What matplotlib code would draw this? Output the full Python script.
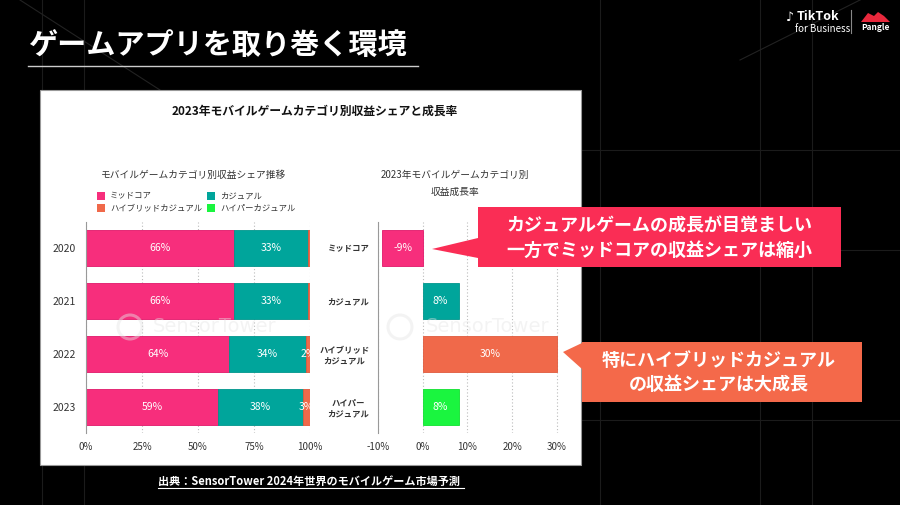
import numpy as np
import matplotlib
matplotlib.use("Agg")
import matplotlib.pyplot as plt
from matplotlib.patches import Rectangle, Polygon, Circle

plt.rcParams['font.family'] = ['Noto Sans CJK JP', 'DejaVu Sans']

W, H = 900, 505

# --- data ---
years = ["2020", "2021", "2022", "2023"]
legend_names = ["ミッドコア", "カジュアル", "ハイブリッドカジュアル", "ハイパーカジュアル"]
share_midcore = [66, 66, 64, 59]
share_casual = [33, 33, 34, 38]
share_hybrid = [1, 1, 2, 3]
share_hyper = [0, 0, 0, 0]
growth_labels = ["ミッドコア", "カジュアル", "ハイブリッド\nカジュアル", "ハイパー\nカジュアル"]
growth = [-9, 8, 30, 8]
share_ticks = [0, 25, 50, 75, 100]
growth_ticks = [-10, 0, 10, 20, 30]

COLS = ["#F72E7C", "#00A59B", "#F0694A", "#1AF53F"]
EDGE = ["#E0186A", "#00968C", "#E05A3C", "#10E030"]
TXT = "#333333"

fig = plt.figure(figsize=(W / 100, H / 100), dpi=100, facecolor="black")

def px_ax(x0, y0, x1, y1, z=0):
    a = fig.add_axes([x0 / W, 1 - y1 / H, (x1 - x0) / W, (y1 - y0) / H], zorder=z)
    return a

# background layer (pixel coords)
bg = px_ax(0, 0, W, H, z=0)
bg.set_xlim(0, W); bg.set_ylim(H, 0); bg.axis("off")
bg.set_facecolor("black")
for x in [42, 84, 600, 760, 812]:
    bg.plot([x, x], [0, H], color="#1b1b1b", lw=0.8, zorder=0)
for y in [150, 250, 420]:
    bg.plot([580, W], [y, y], color="#1b1b1b", lw=0.8, zorder=0)
bg.plot([20, 160], [0, 90], color="#222222", lw=0.8, zorder=0)
bg.plot([740, 900], [60, -20], color="#222222", lw=0.8, zorder=0)
bg.add_patch(Rectangle((40, 90), 541, 375, facecolor="white", edgecolor="#999999", lw=0.8, zorder=5))

# --- left: stacked share bars ---
ax1 = px_ax(86, 221.6, 310, 433, z=1)
ypos = np.arange(len(years))
stack = [share_midcore, share_casual, share_hybrid, share_hyper]
left = np.zeros(len(years))
for vals, c, e in zip(stack, COLS, EDGE):
    vals = np.array(vals, dtype=float)
    ax1.barh(ypos, vals, left=left, height=0.68, color=c, edgecolor=e, lw=0.6, zorder=2)
    for yi, (l, v) in enumerate(zip(left, vals)):
        if v >= 2:
            ax1.text(l + v / 2, yi, f"{int(v)}%", color="white", fontsize=7.5,
                     ha="center", va="center", clip_on=True, zorder=3)
    left += vals
ax1.set_xlim(0, 100)
ax1.set_ylim(3.5, -0.5)
ax1.set_xticks(share_ticks)
ax1.set_xticklabels([f"{t}%" for t in share_ticks])
ax1.set_yticks(ypos)
ax1.set_yticklabels(years)
ax1.xaxis.grid(True, ls=(0, (1, 2)), color="#bbbbbb", lw=0.8, zorder=0)
ax1.set_axisbelow(True)
for s in ["top", "right", "bottom"]:
    ax1.spines[s].set_visible(False)
ax1.spines["left"].set_color("#999999")
ax1.tick_params(length=0, labelsize=7, colors=TXT)
ax1.tick_params(axis="x", pad=6.5)
ax1.tick_params(axis="y", pad=7, labelsize=7.5)
ax1.set_facecolor("none")

# --- right: growth bars ---
ax2 = px_ax(378, 221.6, 570.4, 433, z=1)
ax2.barh(ypos, growth, height=0.68, color=COLS, edgecolor=EDGE, lw=0.6, zorder=2)
for yi, g in enumerate(growth):
    ax2.text(g / 2, yi, f"{g}%", color="white", fontsize=7.5, ha="center", va="center", zorder=3)
ax2.set_xlim(-10, 33)
ax2.set_ylim(3.5, -0.5)
ax2.set_xticks(growth_ticks)
ax2.set_xticklabels([f"{t}%" for t in growth_ticks])
ax2.set_yticks(ypos)
ax2.set_yticklabels(growth_labels, fontsize=6, multialignment="center", fontweight="bold")
ax2.xaxis.grid(True, ls=(0, (1, 2)), color="#bbbbbb", lw=0.8, zorder=0)
ax2.set_axisbelow(True)
for s in ["top", "right", "bottom"]:
    ax2.spines[s].set_visible(False)
ax2.spines["left"].set_color("#999999")
ax2.tick_params(length=0, labelsize=7, colors=TXT)
ax2.tick_params(axis="x", pad=6.5)
ax2.tick_params(axis="y", pad=6, labelsize=6)
ax2.set_facecolor("none")

# --- overlay: titles, legend, callouts ---
ov = px_ax(0, 0, W, H, z=2)
ov.set_xlim(0, W); ov.set_ylim(H, 0); ov.axis("off")
ov.patch.set_alpha(0)

# watermarks
for cx, tx in [(130, 153), (400, 426)]:
    ov.add_patch(Circle((cx, 327), 12, fill=False, edgecolor="#e6e6e6", lw=2.2, alpha=0.45))
    ov.text(tx, 327, "SensorTower", fontsize=14, color="#e6e6e6", alpha=0.45,
            ha="left", va="center", family="DejaVu Sans")

ov.text(28, 45, "ゲームアプリを取り巻く環境", color="white", fontsize=21,
        fontweight="bold", ha="left", va="center")
ov.plot([28, 418], [66, 66], color="#cccccc", lw=1)

# logo area
ov.text(790, 17, "♪", color="white", fontsize=9, ha="center", va="center", family="DejaVu Sans")
ov.text(797, 17, "TikTok", color="white", fontsize=9, fontweight="bold", ha="left", va="center")
ov.text(795, 29, "for Business", color="white", fontsize=7, ha="left", va="center")
ov.plot([851, 851], [10, 33], color="#888888", lw=0.8)
ov.add_patch(Polygon([[861, 22], [868, 13], [874, 16], [878, 12], [884, 16], [890, 22]],
                     closed=True, facecolor="#E8283C"))
ov.text(875, 28, "Pangle", color="white", fontsize=6, fontweight="bold", ha="center", va="center")

ov.text(315, 111, "2023年モバイルゲームカテゴリ別収益シェアと成長率", color="#111111",
        fontsize=8.5, fontweight="bold", ha="center", va="center")
ov.text(194, 175, "モバイルゲームカテゴリ別収益シェア推移", color=TXT, fontsize=7,
        ha="center", va="center")
ov.text(455, 175, "2023年モバイルゲームカテゴリ別", color=TXT, fontsize=7, ha="center", va="center")
ov.text(455, 192, "収益成長率", color=TXT, fontsize=7, ha="center", va="center")

leg_pos = [(97, 196), (207, 196), (97, 208), (207, 208)]
for (lx, ly), name, c in zip(leg_pos, legend_names, COLS):
    ov.add_patch(Rectangle((lx, ly - 4), 8, 8, facecolor=c, edgecolor="none"))
    ov.text(lx + 13, ly, name, color=TXT, fontsize=6, ha="left", va="center")

# callout 1
red = "#FA2D55"
ov.add_patch(Polygon([[478, 207], [841, 207], [841, 267], [478, 267], [478, 258],
                      [432, 249], [478, 238]], closed=True, facecolor=red, edgecolor="none"))
ov.text(659, 226, "カジュアルゲームの成長が目覚ましい", color="white", fontsize=13,
        fontweight="bold", ha="center", va="center")
ov.text(659, 250, "一方でミッドコアの収益シェアは縮小", color="white", fontsize=13,
        fontweight="bold", ha="center", va="center")

# callout 2
org = "#F4694A"
ov.add_patch(Polygon([[582, 342], [862, 342], [862, 402], [582, 402], [582, 369],
                      [563, 352], [582, 343]], closed=True, facecolor=org, edgecolor="none"))
ov.text(719, 360, "特にハイブリッドカジュアル", color="white", fontsize=13,
        fontweight="bold", ha="center", va="center")
ov.text(719, 384, "の収益シェアは大成長", color="white", fontsize=13,
        fontweight="bold", ha="center", va="center")

# source
ov.text(158, 481, "出典：SensorTower 2024年世界のモバイルゲーム市場予測", color="white",
        fontsize=8, fontweight="bold", ha="left", va="center")
ov.plot([158, 464], [488, 488], color="white", lw=0.8)

fig.savefig("out.png", dpi=100, facecolor="black")
